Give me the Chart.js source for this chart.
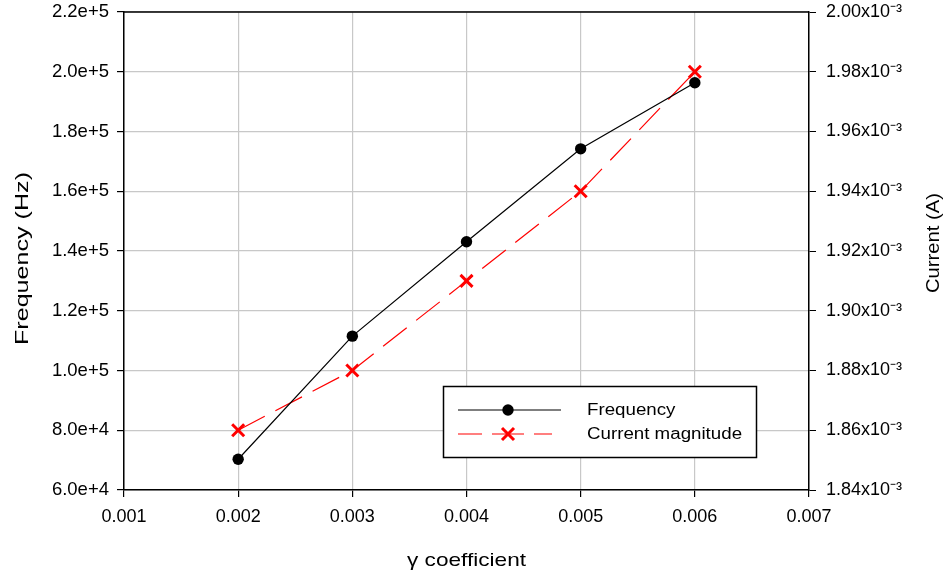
<!DOCTYPE html>
<html>
<head>
<meta charset="utf-8">
<script src="https://cdn.jsdelivr.net/npm/chart.js@4/dist/chart.umd.min.js"></script>
<style>
  html, body { margin: 0; padding: 0; background: #fff; }
  #wrap { width: 950px; height: 579px; position: relative; }
</style>
</head>
<body>
<div id="wrap"><canvas id="c" width="950" height="579"></canvas></div>
<script>
// ---- data ----
const gammaValues = [0.002, 0.003, 0.004, 0.005, 0.006];
const frequencyHz = [70300, 111500, 143100, 174200, 196300];
const currentA = [0.00186, 0.00188, 0.00191, 0.00194, 0.00198];
const seriesNames = ['Frequency', 'Current magnitude'];
const xTitle = 'γ coefficient';
const yLeftTitle = 'Frequency (Hz)';
const yRightTitle = 'Current (A)';

const FONT = '"Liberation Sans", Arial, Helvetica, sans-serif';

function fmtLeft(v) {
  if (v >= 1e5) return (v / 1e5).toFixed(1) + 'e+5';
  return (v / 1e4).toFixed(1) + 'e+4';
}
function fmtRight(v) {
  return (v * 1000).toFixed(2) + 'x10⁻³';
}

// draw text horizontally stretched to a target width
function stretchedText(ctx, text, cx, cy, rot, fontPx, targetW) {
  ctx.save();
  ctx.font = fontPx + 'px ' + FONT;
  ctx.textAlign = 'center';
  ctx.textBaseline = 'middle';
  const w = ctx.measureText(text).width;
  ctx.translate(cx, cy);
  if (rot) ctx.rotate(rot);
  ctx.scale(targetW / w, 1);
  ctx.fillText(text, 0, 0);
  ctx.restore();
}

const titlesAndLegend = {
  id: 'titlesAndLegend',
  afterDraw(chart) {
    const ctx = chart.ctx;
    const area = chart.chartArea;
    ctx.save();
    ctx.fillStyle = '#000';
    // axis titles
    stretchedText(ctx, xTitle, 466.5, 561, 0, 19, 119);
    stretchedText(ctx, yLeftTitle, 23, 258.5, -Math.PI / 2, 18.5, 173);
    stretchedText(ctx, yRightTitle, 934, 243, -Math.PI / 2, 18.5, 100);

    // top border
    ctx.strokeStyle = '#000';
    ctx.lineWidth = 1.5;
    ctx.beginPath();
    ctx.moveTo(area.left, area.top);
    ctx.lineTo(area.right, area.top);
    ctx.stroke();

    // legend box
    const bx = 443.5, by = 386.5, bw = 313, bh = 71;
    ctx.fillStyle = '#fff';
    ctx.fillRect(bx, by, bw, bh);
    ctx.lineWidth = 1.5;
    ctx.strokeStyle = '#000';
    ctx.strokeRect(bx, by, bw, bh);

    const ds = chart.data.datasets;
    const rows = [410, 434];
    ds.forEach((d, i) => {
      const y = rows[i];
      ctx.save();
      ctx.strokeStyle = d.borderColor;
      ctx.lineWidth = d.borderWidth;
      if (i === 0) {
        ctx.setLineDash([]);
        ctx.beginPath(); ctx.moveTo(458, y); ctx.lineTo(561, y); ctx.stroke();
        ctx.fillStyle = d.pointBackgroundColor;
        ctx.beginPath(); ctx.arc(508, y, d.pointRadius, 0, Math.PI * 2); ctx.fill();
      } else {
        ctx.setLineDash([]);
        ctx.beginPath();
        ctx.moveTo(458, y); ctx.lineTo(482, y);
        ctx.moveTo(492, y); ctx.lineTo(524, y);
        ctx.moveTo(534, y); ctx.lineTo(552, y);
        ctx.stroke();
        const r = d.pointRadius * Math.SQRT1_2;
        ctx.lineWidth = d.pointBorderWidth;
        ctx.strokeStyle = d.pointBorderColor;
        ctx.beginPath();
        ctx.moveTo(508 - r, y - r); ctx.lineTo(508 + r, y + r);
        ctx.moveTo(508 - r, y + r); ctx.lineTo(508 + r, y - r);
        ctx.stroke();
      }
      ctx.restore();
      ctx.save();
      ctx.fillStyle = '#000';
      ctx.font = '16px ' + FONT;
      ctx.textAlign = 'left';
      ctx.textBaseline = 'middle';
      ctx.translate(587, y + 1);
      ctx.scale(1.17, 1);
      ctx.fillText(d.label, 0, 0);
      ctx.restore();
    });
    ctx.restore();
  }
};

new Chart(document.getElementById('c'), {
  type: 'line',
  data: {
    datasets: [
      {
        label: seriesNames[0],
        data: gammaValues.map((x, i) => ({ x: x, y: frequencyHz[i] })),
        yAxisID: 'y',
        borderColor: '#000',
        backgroundColor: '#000',
        borderWidth: 1.2,
        pointStyle: 'circle',
        pointRadius: 5.7,
        pointBorderWidth: 0,
        pointBackgroundColor: '#000',
        tension: 0
      },
      {
        label: seriesNames[1],
        data: gammaValues.map((x, i) => ({ x: x, y: currentA[i] })),
        yAxisID: 'y1',
        borderColor: '#ff0000',
        backgroundColor: '#ff0000',
        borderWidth: 1.2,
        borderDash: [30, 12],
        pointStyle: 'crossRot',
        pointRadius: 8.5,
        pointBorderWidth: 3,
        pointBorderColor: '#ff0000',
        tension: 0
      }
    ]
  },
  options: {
    responsive: false,
    animation: false,
    devicePixelRatio: 1,
    layout: { padding: { top: 12, left: 0, right: 0, bottom: 0 } },
    plugins: {
      legend: { display: false },
      tooltip: { enabled: false }
    },
    scales: {
      x: {
        type: 'linear',
        min: 0.001,
        max: 0.007,
        ticks: {
          stepSize: 0.001,
          color: '#000',
          font: { family: FONT, size: 18 },
          padding: 9,
          callback: v => v.toFixed(3),
          maxRotation: 0
        },
        grid: { color: '#c8c8c8', lineWidth: 1.2, tickColor: '#000', tickLength: 7 },
        border: { color: '#000', width: 1.5 },
        afterFit(s) { s.height = 89; s.paddingLeft = 0; s.paddingRight = 0; }
      },
      y: {
        type: 'linear',
        position: 'left',
        min: 60000,
        max: 220000,
        ticks: {
          stepSize: 20000,
          color: '#000',
          font: { family: FONT, size: 18.5 },
          padding: 8,
          callback: v => fmtLeft(v)
        },
        grid: { color: '#c8c8c8', lineWidth: 1.2, tickColor: '#000', tickLength: 7 },
        border: { color: '#000', width: 1.5 },
        afterFit(s) { s.width = 124; s.paddingTop = 0; s.paddingBottom = 0; }
      },
      y1: {
        type: 'linear',
        position: 'right',
        min: 0.00184,
        max: 0.002,
        ticks: {
          stepSize: 0.00002,
          color: '#000',
          font: { family: FONT, size: 18 },
          padding: 10,
          callback: v => fmtRight(v)
        },
        grid: { drawOnChartArea: false, tickColor: '#000', tickLength: 7 },
        border: { color: '#000', width: 1.5 },
        afterFit(s) { s.width = 141; s.paddingTop = 0; s.paddingBottom = 0; }
      }
    }
  },
  plugins: [titlesAndLegend]
});
</script>
</body>
</html>
